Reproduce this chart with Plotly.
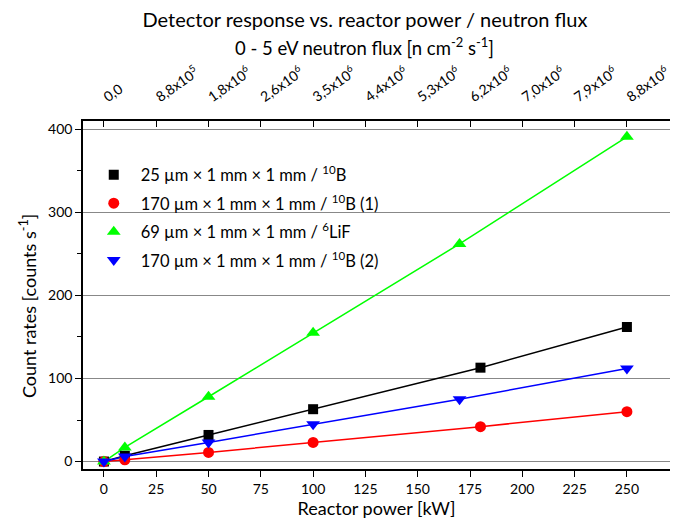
import plotly.graph_objects as go

# ---- data ----
power_black = [0, 10, 50, 100, 180, 250]
rate_black = [0, 7, 32, 63, 113, 162]

power_red = [0, 10, 50, 100, 180, 250]
rate_red = [0, 2, 11, 23, 42, 60]

power_green = [0, 10, 50, 100, 170, 250]
rate_green = [0, 17, 78, 155, 262, 391]

power_blue = [0, 10, 50, 100, 170, 250]
rate_blue = [0, 6, 23, 45, 75, 112]

series_names = [
    "25 µm × 1 mm × 1 mm / <sup>10</sup>B",
    "170 µm × 1 mm × 1 mm / <sup>10</sup>B (1)",
    "69 µm × 1 mm × 1 mm / <sup>6</sup>LiF",
    "170 µm × 1 mm × 1 mm / <sup>10</sup>B (2)",
]

top_tick_power = [0, 25, 50, 75, 100, 125, 150, 175, 200, 225, 250]
top_tick_labels = [
    "0,0", "8,8x10<sup>5</sup>", "1,8x10<sup>6</sup>", "2,6x10<sup>6</sup>",
    "3,5x10<sup>6</sup>", "4,4x10<sup>6</sup>", "5,3x10<sup>6</sup>",
    "6,2x10<sup>6</sup>", "7,0x10<sup>6</sup>", "7,9x10<sup>6</sup>",
    "8,8x10<sup>6</sup>",
]

FONT = "Lato, 'Open Sans', sans-serif"

series = [
    (power_black, rate_black, "#000000", "square", 10),
    (power_red, rate_red, "#ff0000", "circle", 11),
    (power_green, rate_green, "#00ff00", "triangle-up", 12),
    (power_blue, rate_blue, "#0000ff", "triangle-down", 12),
]

fig = go.Figure()
for i, ((xs, ys, col, sym, sz), name) in enumerate(zip(series, series_names)):
    fig.add_trace(go.Scatter(x=xs, y=ys, mode="lines", line=dict(color=col, width=1.5),
                             showlegend=False, hoverinfo="skip", legendgroup=f"g{i}"))
for i, ((xs, ys, col, sym, sz), name) in enumerate(zip(series, series_names)):
    fig.add_trace(go.Scatter(x=xs, y=ys, mode="markers", name=name, legendgroup=f"g{i}",
                             marker=dict(color=col, symbol=sym, size=sz)))

# invisible trace for top axis
fig.add_trace(go.Scatter(x=[0, 250], y=[0, 0], xaxis="x2", mode="markers",
                         marker=dict(opacity=0), showlegend=False, hoverinfo="skip"))

W, H = 673, 514  # page body has an 8px margin
fig.update_layout(
    width=W, height=H,
    margin=dict(l=75, r=11, t=113, b=53),
    paper_bgcolor="white", plot_bgcolor="white",
    font=dict(family=FONT, size=14, color="#000"),
    showlegend=True,
    legend=dict(x=0.0064, y=0.895, xanchor="left", yanchor="top", tracegroupgap=4,
                itemwidth=44, traceorder="grouped",
                bgcolor="rgba(0,0,0,0)", font=dict(size=16.5, family=FONT)),
    xaxis=dict(range=[-10, 270.6], tickmode="array", tickvals=top_tick_power,
               ticks="outside", ticklen=6, tickcolor="#000", showline=True,
               linecolor="#000", linewidth=1.5, showgrid=False, zeroline=False,
               tickfont=dict(size=14), automargin=False,
               title=dict(text="Reactor power [kW]", font=dict(size=18), standoff=1)),
    xaxis2=dict(range=[-10, 270.6], overlaying="x", side="top", tickmode="array",
                tickvals=top_tick_power, ticktext=top_tick_labels, tickangle=-35,
                ticks="inside", ticklen=6, tickcolor="#000", showline=True,
                linecolor="#000", linewidth=1.5, showgrid=False, zeroline=False,
                tickfont=dict(size=14), automargin=False, ticklabelstandoff=10),
    yaxis=dict(range=[-9, 410], tickmode="array", tickvals=[0, 100, 200, 300, 400],
               ticks="outside", ticklen=6, tickcolor="#000", showline=True,
               linecolor="#000", linewidth=1.5, showgrid=True, gridcolor="#888",
               gridwidth=1, zeroline=False, tickfont=dict(size=14), automargin=False,
               minor=dict(tickvals=[50, 150, 250, 350], ticks="outside", ticklen=4,
                          tickcolor="#000", showgrid=False)),
    title=dict(text="Detector response vs. reactor power / neutron flux",
               x=357 / W, xanchor="center", y=1 - 11.5 / H, yanchor="middle",
               yref="container", font=dict(size=20, family=FONT)),
    annotations=[
        dict(text="0 - 5 eV neutron flux [n cm<sup>-2</sup> s<sup>-1</sup>]",
             xref="paper", yref="paper", x=0.48, y=1 + (121 - 46) / 348,
             xanchor="center", yanchor="middle", showarrow=False,
             font=dict(size=18.5, family=FONT)),
        dict(text="Count rates [counts s<sup>-1</sup>]", textangle=-90,
             xref="paper", yref="paper", x=(28 - 83) / 587, y=(469 - 306) / 348,
             xanchor="center", yanchor="middle", showarrow=False,
             font=dict(size=18, family=FONT)),
    ],
)

fig.write_html("out.html")
